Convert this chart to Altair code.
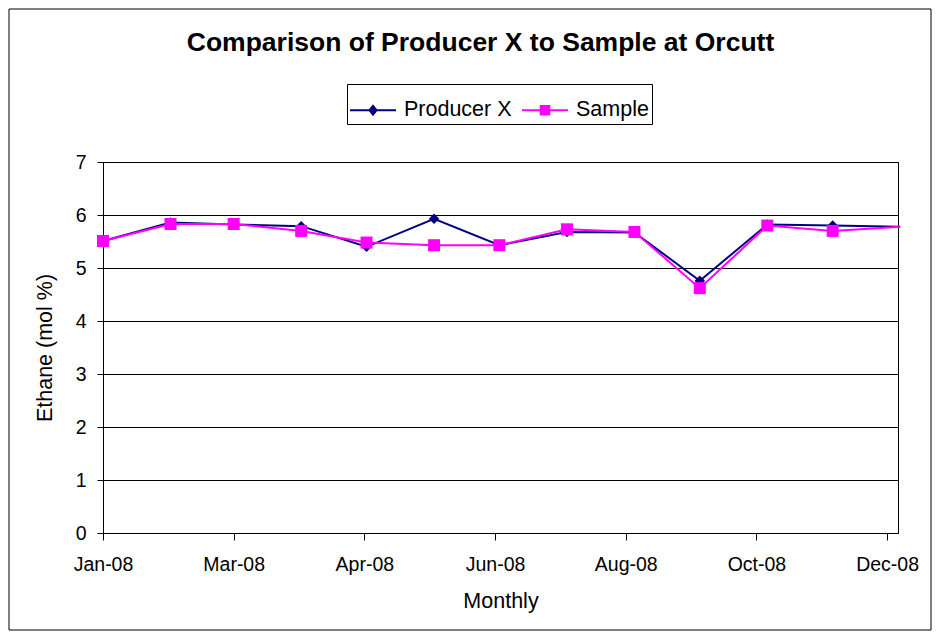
import altair as alt
import pandas as pd

# ---- data ----
dates = ["2008-01-01", "2008-02-01", "2008-03-01", "2008-04-01", "2008-05-01",
         "2008-06-01", "2008-07-01", "2008-08-01", "2008-09-01", "2008-10-01",
         "2008-11-01", "2008-12-01", "2009-01-01"]
producer_x = [5.51, 5.86, 5.82, 5.79, 5.40, 5.93, 5.43, 5.68, 5.67, 4.76, 5.82, 5.80, 5.78]
sample = [5.51, 5.83, 5.83, 5.70, 5.48, 5.43, 5.43, 5.73, 5.68, 4.62, 5.80, 5.70, 5.78]
series_names = ["Producer X", "Sample"]
series_colors = ["#000080", "#FF00FF"]
tick_dates = ["2008-01-01", "2008-03-01", "2008-04-30", "2008-06-29",
              "2008-08-28", "2008-10-27", "2008-12-26"]
x_domain = ["2008-01-01", "2008-12-31"]
y_ticks = [0, 1, 2, 3, 4, 5, 6, 7]


def ms(s):
    return int(pd.Timestamp(s, tz="UTC").value // 10**6)


rows = []
for name, vals in zip(series_names, [producer_x, sample]):
    for d, v in zip(dates, vals):
        rows.append({"t": ms(d), "value": v, "series": name})
df = pd.DataFrame(rows)

FONT = "Liberation Sans"
W, H = 795, 371
dom_ms = [ms(x_domain[0]), ms(x_domain[1])]

x_enc = alt.X(
    "t:T",
    scale=alt.Scale(type="utc", domain=dom_ms),
    axis=alt.Axis(values=[ms(t) for t in tick_dates], format="%b-%y",
                  grid=False, tickSize=7, labelPadding=15, labelFlush=False,
                  labelOverlap=False, title="Monthly", titlePadding=17),
)
y_enc = alt.Y(
    "value:Q",
    scale=alt.Scale(domain=[0, 7], nice=False, zero=True),
    axis=alt.Axis(values=y_ticks, grid=True, tickSize=6, labelPadding=11,
                  title="Ethane (mol %)", titlePadding=19),
)
color_scale = alt.Scale(domain=series_names, range=series_colors)


def only(name):
    return f"datum.series == '{name}'"


end_filter = f"datum.t <= {dom_ms[1]}"

line_prod = alt.Chart(df).transform_filter(only(series_names[0])).mark_line(
    strokeWidth=2, clip=False, color=series_colors[0]).encode(x=x_enc, y=y_enc, order=alt.Order("t:Q"))
pts_prod = alt.Chart(df).transform_filter(f"{only(series_names[0])} && {end_filter}").mark_point(
    shape="diamond", filled=True, size=110, color=series_colors[0], opacity=1).encode(x=x_enc, y=y_enc)
line_samp = alt.Chart(df).transform_filter(only(series_names[1])).mark_line(
    strokeWidth=2, clip=False, color=series_colors[1]).encode(x=x_enc, y=y_enc, order=alt.Order("t:Q"))
pts_samp = alt.Chart(df).transform_filter(f"{only(series_names[1])} && {end_filter}").mark_point(
    shape="square", filled=True, size=144, color=series_colors[1], opacity=1).encode(x=x_enc, y=y_enc)

# legend symbols: line segment + marker (custom paths)
path_prod = "M-1,-0.045L1,-0.045L1,0.045L-1,0.045Z M0,-0.26L0.21,0L0,0.26L-0.21,0Z"
path_samp = "M-1,-0.045L1,-0.045L1,0.045L-1,0.045Z M-0.23,-0.23L0.23,-0.23L0.23,0.23L-0.23,0.23Z"
leg = alt.Legend(title=None, orient="none", legendX=244, legendY=-78, direction="horizontal",
                 strokeColor="black", fillColor="white", padding=3, symbolSize=2116,
                 symbolStrokeWidth=0, labelFont=FONT, labelFontSize=21.5, labelColor="black",
                 labelOffset=8, columnPadding=10, symbolOpacity=1)
legend_layer = alt.Chart(df).mark_point(filled=True, opacity=0).encode(
    x=x_enc, y=y_enc,
    color=alt.Color("series:N", scale=color_scale, legend=leg),
    shape=alt.Shape("series:N", scale=alt.Scale(domain=series_names, range=[path_prod, path_samp]), legend=leg),
)

frame = alt.Chart(pd.DataFrame({"k": [0]})).mark_rect(fill="transparent", stroke="black", strokeWidth=1).encode(
    x=alt.value(-94), x2=alt.value(828), y=alt.value(-153), y2=alt.value(468)
)

chart = alt.layer(frame, legend_layer, line_prod, pts_prod, line_samp, pts_samp).properties(
    width=W, height=H,
    background="white",
    autosize=alt.AutoSizeParams(type="none"),
    padding={"left": 95, "top": 154, "right": 34, "bottom": 99},
    title=alt.TitleParams(text="Comparison of Producer X to Sample at Orcutt", font=FONT, fontSize=26.5,
                          fontWeight="bold", color="black", anchor="middle", frame="group",
                          baseline="alphabetic", offset=-69, dx=-20),
).configure_view(stroke="black", strokeWidth=1).configure_axis(
    labelFont=FONT, titleFont=FONT, labelFontSize=19.5, titleFontSize=21.5, titleFontWeight="normal",
    labelColor="black", titleColor="black", domainColor="black", tickColor="black",
    gridColor="black", gridOpacity=1, domainWidth=1, tickWidth=1, gridWidth=1,
)

chart.save("out.html", embed_options={"renderer": "svg", "actions": False})
